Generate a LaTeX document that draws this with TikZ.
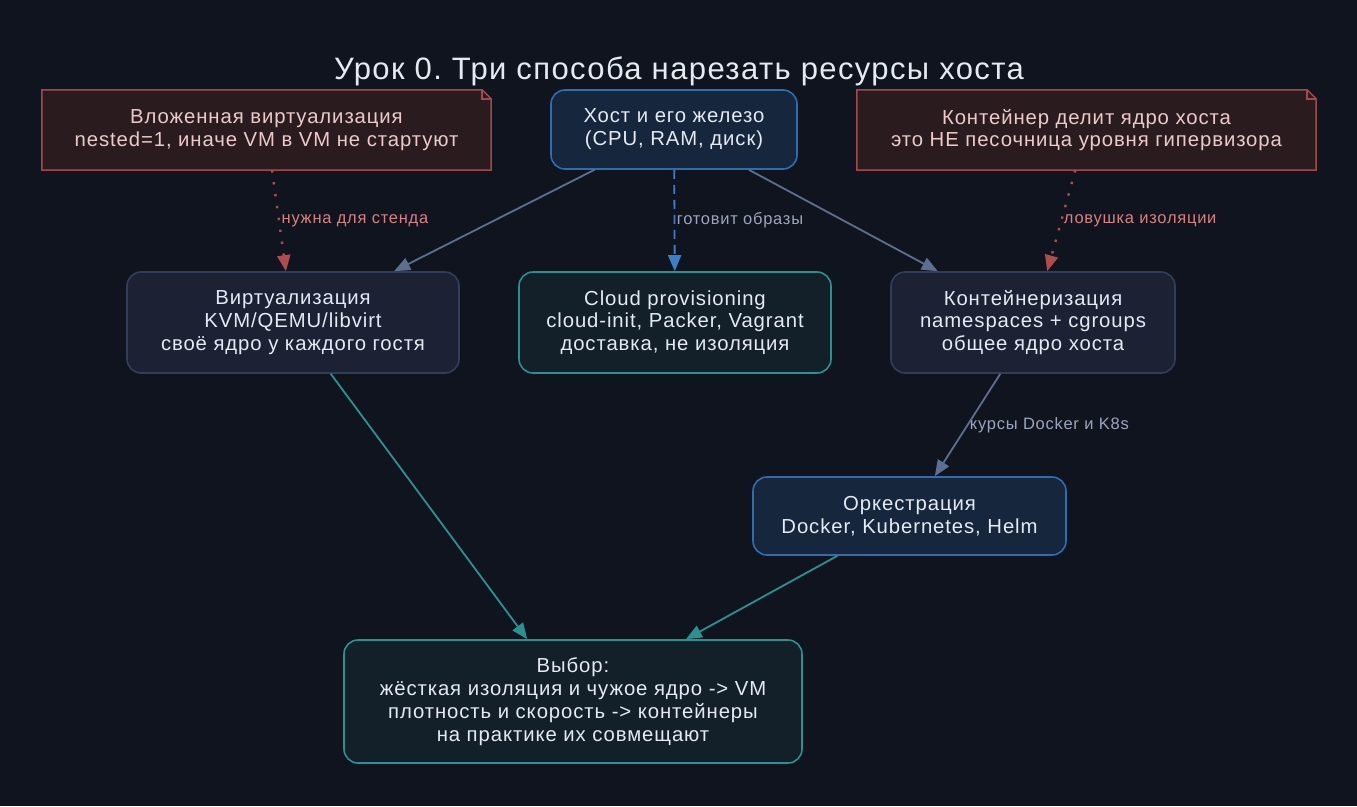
\documentclass[tikz,border=0pt]{standalone}
\usepackage{fontspec}
\setmainfont{Liberation Sans}[LetterSpace=4.5]
\usetikzlibrary{arrows.meta}
\frenchspacing
\definecolor{bg}{HTML}{10141F}
\definecolor{txt}{HTML}{E4EAF2}
\definecolor{hostfill}{HTML}{15263D}
\definecolor{hostdraw}{HTML}{2E6DB0}
\definecolor{virtfill}{HTML}{1C2233}
\definecolor{virtdraw}{HTML}{323D58}
\definecolor{tealfill}{HTML}{13202A}
\definecolor{tealdraw}{HTML}{2A9191}
\definecolor{notefill}{HTML}{2A1C1E}
\definecolor{notedraw}{HTML}{A24A4A}
\definecolor{notetxt}{HTML}{ECCACA}
\definecolor{slate}{HTML}{5D6F8F}
\definecolor{slatetxt}{HTML}{9AA5BD}
\definecolor{bluedash}{HTML}{3A7FC8}
\definecolor{reddot}{HTML}{B04C4C}
\definecolor{redtxt}{HTML}{D98080}
\tikzset{
  box/.style={rounded corners=14pt, line width=1.6pt, align=center, inner sep=0pt,
    text=txt, font=\fontsize{20.3}{22.8}\selectfont},
  hostbox/.style={box, fill=hostfill, draw=hostdraw},
  virtbox/.style={box, fill=virtfill, draw=virtdraw},
  tealbox/.style={box, fill=tealfill, draw=tealdraw},
  notebox/.style={align=center, inner sep=0pt, text=notetxt, font=\fontsize{20.3}{22.8}\selectfont},
  conn/.style={line width=1.8pt, -{Triangle[length=16pt,width=13pt]}},
  slateedge/.style={conn, draw=slate},
  tealedge/.style={conn, draw=tealdraw},
  blueedge/.style={conn, draw=bluedash, dash pattern=on 9pt off 6pt},
  rededge/.style={conn, draw=reddot, line width=2.4pt, dash pattern=on 2.4pt off 9.6pt},
  elabel/.style={anchor=west, inner sep=1.5pt, font=\fontsize{16.5}{18}\selectfont},
}
\begin{document}
\begin{tikzpicture}[x=1pt,y=-1pt]
\fill[bg] (0,0) rectangle (1357,806);
\useasboundingbox (0,0) rectangle (1357,806);

\node[text=txt, font=\fontsize{31}{35}\selectfont] (title) at (679,71.5) {Урок 0. Три способа нарезать ресурсы хоста};

% notes
\node[notebox, minimum width=449pt, minimum height=80pt] (n1) at (266.5,130) {};
\node[notebox, minimum width=459pt, minimum height=80pt] (n2) at (1086.5,130) {};
\foreach \n in {n1,n2}{
  \draw[fill=notefill, draw=notedraw, line width=1.5pt]
    (\n.north west) -- ([xshift=-9pt]\n.north east) -- ([yshift=-9pt]\n.north east)
    -- (\n.south east) -- (\n.south west) -- cycle;
  \draw[draw=notedraw, line width=1.5pt]
    ([xshift=-9pt]\n.north east) -- ([xshift=-9pt,yshift=-9pt]\n.north east) -- ([yshift=-9pt]\n.north east);
}
\node[notebox] (n1t) at (n1) {Вложенная виртуализация\\nested=1, иначе VM в VM не стартуют};
\node[notebox] (n2t) at (n2) {Контейнер делит ядро хоста\\это НЕ песочница уровня гипервизора};

% main nodes
\node[hostbox, minimum width=246pt, minimum height=79pt] (host) at (674,129.5) {Хост и его железо\\(CPU, RAM, диск)};
\node[virtbox, minimum width=332pt, minimum height=101pt] (virt) at (293,322.5) {Виртуализация\\KVM/QEMU/libvirt\\своё ядро у каждого гостя};
\node[tealbox, minimum width=312pt, minimum height=101pt] (cloud) at (675,322.5) {Cloud provisioning\\cloud-init, Packer, Vagrant\\доставка, не изоляция};
\node[virtbox, minimum width=284pt, minimum height=101pt] (cont) at (1033,322.5) {Контейнеризация\\namespaces + cgroups\\общее ядро хоста};
\node[hostbox, minimum width=313pt, minimum height=78pt] (orch) at (909.5,516) {Оркестрация\\Docker, Kubernetes, Helm};
\node[tealbox, minimum width=458pt, minimum height=123pt] (choice) at (573,701.5) {Выбор:\\жёсткая изоляция и чужое ядро -> VM\\плотность и скорость -> контейнеры\\на практике их совмещают};

% edges
\draw[slateedge] (host) -- (virt);
\draw[blueedge] (host) -- node[elabel, text=slatetxt, pos=0.5] {готовит образы} (cloud);
\draw[slateedge] (host) -- (cont);
\draw[rededge] (n1) -- node[elabel, text=redtxt, pos=0.5] {нужна для стенда} (virt);
\draw[rededge] (n2) -- node[elabel, text=redtxt, pos=0.5] {ловушка изоляции} (cont);
\draw[slateedge] (cont) -- node[elabel, text=slatetxt, pos=0.5] {курсы Docker и K8s} (orch);
\draw[tealedge] (virt) -- (choice);
\draw[tealedge] (orch) -- (choice);
\end{tikzpicture}
\end{document}
